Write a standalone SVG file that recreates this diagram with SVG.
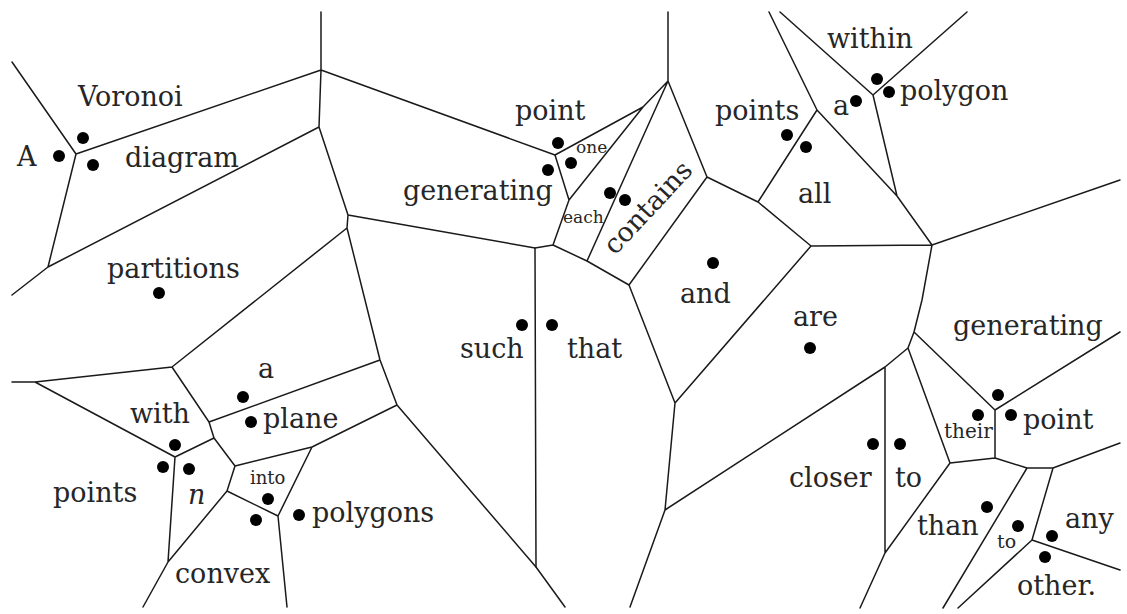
<svg xmlns="http://www.w3.org/2000/svg" width="1127" height="614" viewBox="0 0 1127 614">
<style>
.e{fill:none;stroke:#1a1a1a;stroke-width:1.5;stroke-linejoin:round;stroke-linecap:round}
.w{font-family:"DejaVu Serif","Liberation Serif",serif;font-size:27px;fill:#262626}
.s{font-size:18px}
.d{fill:#000}
</style>
<rect width="1127" height="614" fill="#fff"/>
<g id="connectors" class="e">
<path d="M12,62 L76,154 L321,70 M321,12 L321,70 L319,127 M321,70 L555,155 M319,127 L48,267 M76,154 L48,267 L12,295 M319,127 L348,215 L535,248 M348,215 L347,228 L172,367 M347,228 L380,360 L397,405 M380,360 L209,422 M397,405 L312,447 M397,405 L536,567 L565,607 M312,447 L235,466 M312,447 L278,516 L287,607 M235,466 L214,438 M235,466 L227,491 L278,516 M227,491 L168,562 L143,607 M214,438 L209,422 L172,367 M214,438 L175,457 L168,562 M175,457 L35,382 L12,382 M35,382 L172,367"/>
<path d="M555,155 L643,107 L668,81 L668,12 M643,107 L569,200 M555,155 L569,200 L553,245 L535,248 L536,567 M668,81 L587,261 M553,245 L587,261 L629,285 M668,81 L707,177 L629,285 L675,403 L665,510 L630,607 M675,403 L811,246 M707,177 L758,202 L811,246 M758,202 L817,110 L769,12 M817,110 L897,196 L873,95 L780,12 M873,95 L967,12 M897,196 L932,245 M811,246 L932,245 L1120,180 M932,245 L922,300 L914,332 L908,348 M914,332 L995,410 L1120,332 M995,410 L995,458 M908,348 L885,367 L665,510 M885,367 L885,553 L860,608 M908,348 L950,463 L885,553 M950,463 L995,458 L1027,468 L1053,468 L1120,443 M1027,468 L943,608 M1053,468 L1032,540 L958,608 M1032,540 L1120,570"/>
</g>
<g id="n-A"><circle class="d" cx="59" cy="156" r="6"/><text class="w" x="17" y="166">A</text></g>
<g id="n-Voronoi"><circle class="d" cx="83" cy="138" r="6"/><text class="w" x="78" y="106">Voronoi</text></g>
<g id="n-diagram"><circle class="d" cx="93" cy="165" r="6"/><text class="w" x="125" y="167">diagram</text></g>
<g id="n-partitions"><circle class="d" cx="159" cy="293" r="6"/><text class="w" x="107" y="278">partitions</text></g>
<g id="n-a1"><circle class="d" cx="243" cy="397" r="6"/><text class="w" x="258" y="378">a</text></g>
<g id="n-plane"><circle class="d" cx="251" cy="422" r="6"/><text class="w" x="263" y="428">plane</text></g>
<g id="n-with"><circle class="d" cx="175" cy="445" r="6"/><text class="w" x="130" y="423">with</text></g>
<g id="n-n"><circle class="d" cx="189" cy="469" r="6"/><text class="w" x="188" y="504" style="font-style:italic">n</text></g>
<g id="n-points1"><circle class="d" cx="163" cy="467" r="6"/><text class="w" x="53" y="502">points</text></g>
<g id="n-into"><circle class="d" cx="268" cy="499" r="6"/><text class="w s" x="250" y="484">into</text></g>
<g id="n-convex"><circle class="d" cx="256" cy="520" r="6"/><text class="w" x="175" y="583">convex</text></g>
<g id="n-polygons"><circle class="d" cx="299" cy="515" r="6"/><text class="w" x="312" y="522">polygons</text></g>
<g id="n-such"><circle class="d" cx="522" cy="325" r="6"/><text class="w" x="460" y="358">such</text></g>
<g id="n-that"><circle class="d" cx="552" cy="325" r="6"/><text class="w" x="567" y="358">that</text></g>
<g id="n-generating1"><circle class="d" cx="548" cy="170" r="6"/><text class="w" x="403" y="200">generating</text></g>
<g id="n-point1"><circle class="d" cx="558" cy="143" r="6"/><text class="w" x="515" y="120">point</text></g>
<g id="n-one"><circle class="d" cx="571" cy="163" r="6"/><text class="w" x="576" y="153" style="font-size:17px">one</text></g>
<g id="n-each"><circle class="d" cx="610" cy="193" r="6"/><text class="w" x="563" y="223" style="font-size:17px">each</text></g>
<g id="n-contains"><circle class="d" cx="625" cy="200" r="6"/><text class="w" transform="translate(615,256) rotate(-47)">contains</text></g>
<g id="n-points2"><circle class="d" cx="787" cy="135" r="6"/><text class="w" x="715" y="120">points</text></g>
<g id="n-and"><circle class="d" cx="713" cy="263" r="6"/><text class="w" x="680" y="303">and</text></g>
<g id="n-all"><circle class="d" cx="806" cy="147" r="6"/><text class="w" x="798" y="203">all</text></g>
<g id="n-a2"><circle class="d" cx="856" cy="101" r="6"/><text class="w" x="833" y="115">a</text></g>
<g id="n-within"><circle class="d" cx="877" cy="79" r="6"/><text class="w" x="827" y="48">within</text></g>
<g id="n-polygon"><circle class="d" cx="889" cy="92" r="6"/><text class="w" x="900" y="100">polygon</text></g>
<g id="n-are"><circle class="d" cx="810" cy="348" r="6"/><text class="w" x="793" y="326">are</text></g>
<g id="n-generating2"><circle class="d" cx="998" cy="395" r="6"/><text class="w" x="953" y="335">generating</text></g>
<g id="n-their"><circle class="d" cx="978" cy="415" r="6"/><text class="w" x="944" y="438" style="font-size:20px">their</text></g>
<g id="n-point2"><circle class="d" cx="1011" cy="415" r="6"/><text class="w" x="1023" y="429">point</text></g>
<g id="n-closer"><circle class="d" cx="873" cy="444" r="6"/><text class="w" x="789" y="487">closer</text></g>
<g id="n-to1"><circle class="d" cx="900" cy="444" r="6"/><text class="w" x="895" y="487">to</text></g>
<g id="n-than"><circle class="d" cx="987" cy="507" r="6"/><text class="w" x="917" y="535">than</text></g>
<g id="n-to2"><circle class="d" cx="1018" cy="526" r="6"/><text class="w" x="997" y="548" style="font-size:19px">to</text></g>
<g id="n-any"><circle class="d" cx="1052" cy="536" r="6"/><text class="w" x="1065" y="528">any</text></g>
<g id="n-other"><circle class="d" cx="1045" cy="557" r="6"/><text class="w" x="1017" y="595">other.</text></g>
</svg>
